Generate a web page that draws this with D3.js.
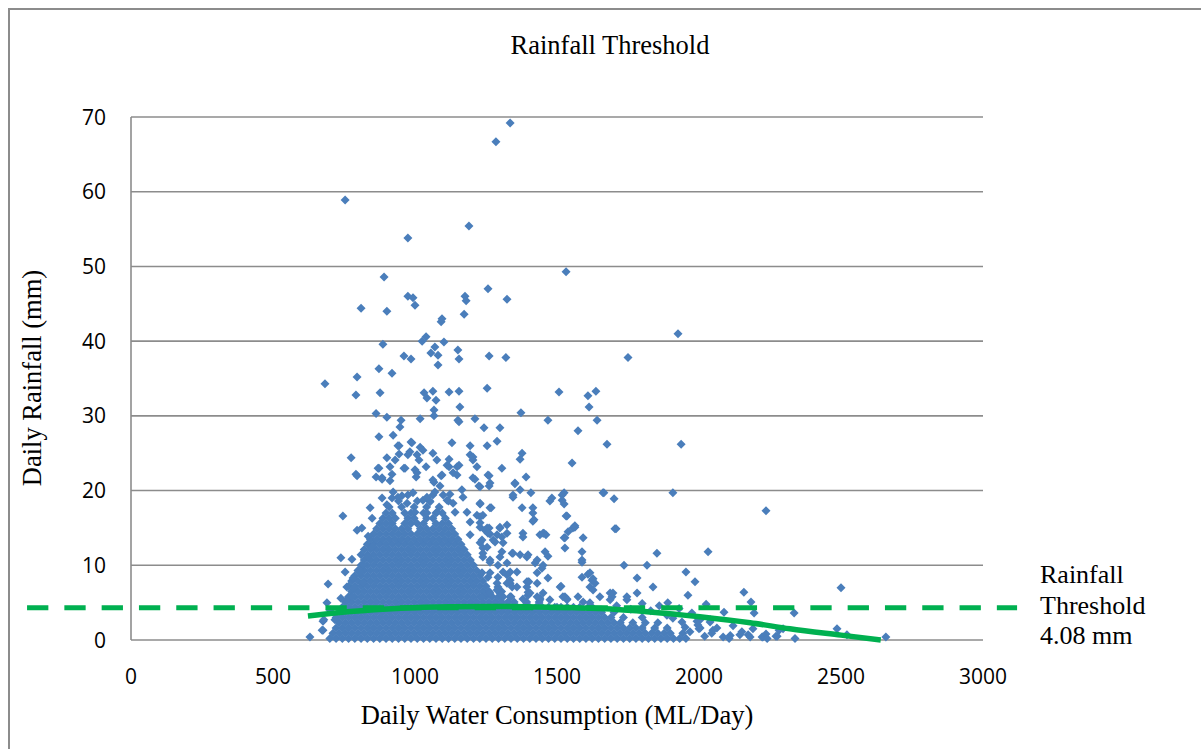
<!DOCTYPE html>
<html>
<head>
<meta charset="utf-8">
<script src="https://cdn.jsdelivr.net/npm/d3@7"></script>
<style>
  body { margin: 0; background: #fff; }
  svg { display: block; }
</style>
</head>
<body>
<script>
'use strict';

// ticks
var xTicks = [0, 500, 1000, 1500, 2000, 2500, 3000];
var yTicks = [0, 10, 20, 30, 40, 50, 60, 70];

// threshold (label value and where the dashed line sits in the picture)
var thresholdLabel = ['Rainfall', 'Threshold', '4.08 mm'];
var thresholdDrawn = 4.33;
var thresholdSpan = [-366, 3120];

// polynomial trend
var trendX = [623, 771, 950, 1123, 1300, 1475, 1650, 1827, 2003, 2180, 2320, 2500, 2640];
var trendY = [3.2, 3.8, 4.25, 4.45, 4.5, 4.4, 4.2, 3.75, 3.1, 2.3, 1.5, 0.65, 0];

// scattered days above 20 mm
var highPoints = [[1335,69.2],[1285,66.7],[754,58.9],[1190,55.4],[975,53.8],[1532,49.3],[891,48.6],[810,44.4],[901,44.0],[975,46.0],[993,45.8],[1000,44.8],[1176,46.0],[1180,45.4],[1173,43.6],[1257,47.0],[1324,45.6],[1092,42.6],[1095,43.0],[1039,40.6],[1025,40.0],[1102,39.9],[887,39.6],[1070,39.2],[1151,38.8],[961,38.0],[986,37.6],[1056,38.4],[1081,38.1],[1081,36.8],[1155,37.6],[1261,38.0],[1320,37.8],[873,36.3],[919,35.7],[796,35.2],[683,34.3],[792,32.8],[877,33.1],[1032,33.1],[1063,33.3],[1120,33.2],[1155,33.3],[1254,33.7],[1926,41.0],[1750,37.8],[1507,33.2],[1609,32.7],[1637,33.3],[1613,31.2],[1641,29.4],
  [1042,32.4],[1074,32.1],[1158,31.2],[1067,30.8],[1067,30.0],[863,30.3],[901,29.8],[951,29.4],[947,28.5],[1018,29.6],[1151,29.4],[1155,29.2],[1211,29.6],[1243,28.4],[1299,28.4],[1373,30.4],[1468,29.4],[1574,28.0],[873,27.2],[923,27.4],[944,26.0],[986,26.5],[1018,25.8],[1130,26.4],[1194,26.0],[1254,26.0],[1289,26.6],[1676,26.2],[1937,26.2],
  [1028,25.4],[1377,25.0],[1370,24.2],[775,24.4],[901,24.4],[930,24.1],[944,24.9],[982,25.2],[1007,24.8],[1014,24.1],[1063,25.0],[1077,24.1],[1120,24.2],[1155,23.4],[1194,24.8],[1204,24.1],[1218,23.2],[1306,23.0],[1553,23.7],[792,22.2],[873,23.0],[863,21.8],[884,21.5],[912,23.2],[919,22.2],[912,21.3],[961,23.0],[1000,22.8],[1004,21.8],[1039,23.2],[1092,22.0],[1067,21.1],[1120,23.2],[1148,22.1],[1211,21.5],[1225,20.6],[1261,22.0],[1261,20.6],[1391,21.8],[1352,20.9],[1088,20.6],[796,22.0],[940,26.0],[989,26.4],[975,24.8],[1113,23.4],[1148,23.2],[1204,24.5],[1257,22.1],[1264,21.0],[1007,22.4],[1063,21.4],[1095,22.1],[1134,22.4],[1204,21.7],[1229,20.5],[870,23.0],[884,21.7],[965,23.0],[1352,21.0],[1370,20.1]];

// scattered days 5-20 mm outside the dense core
var midPoints = [[1408,19.7],[1345,19.1],[1475,18.6],[1518,18.7],[1525,18.2],[1525,19.7],[1665,19.7],[1701,18.9],[1908,19.7],[1268,17.7],[1377,17.7],[1415,17.7],[1415,17.0],[1419,16.1],[1415,15.9],[1535,16.6],[1563,15.1],[1556,15.0],[1539,14.5],[1528,13.7],[1704,14.9],[1592,13.7],[1528,12.3],[1454,14.3],[1440,14.1],[1458,11.8],[1468,11.2],[1380,14.3],[1380,13.8],[1324,15.4],[1299,15.0],[1324,14.3],[1289,14.1],[1310,13.0],[1282,13.1],[1254,12.4],[1239,12.3],[1588,11.8],[1588,10.7],[1306,11.8],[1342,11.6],[1370,11.4],[1394,11.1],[1852,11.6],[1430,10.7],[1451,10.0],[1423,10.3],[1447,9.6],[1736,10.0],[1817,10.0],[1954,9.1],[1986,7.8],[1961,6.0],[1588,8.4],[1609,8.8],[1627,8.2],[1616,7.1],[1634,7.6],[1782,8.3],[1838,7.1],[1697,6.3],[1694,5.8],[1511,7.1],[1468,8.3],[1430,7.6],[1398,7.8],[1335,9.1],[1324,8.7],[1292,8.4],[1257,8.4],[1292,7.1],[1335,7.6],[1528,5.8],[1535,5.5],[1574,5.8],[1440,5.6],[1398,6.0],[1380,5.5],[2236,17.3],[2032,11.8],[1746,5.4],[1229,18.2],[1229,16.5],[1194,14.1],[1264,14.2],[1261,15.0],[1299,15.1],[1306,13.8],[1345,11.6],[1398,11.4],[1401,7.8],[1451,14.3],[1461,14.1],[1518,19.4],[1532,16.6],[1563,15.3],[1525,13.7],[1588,10.4],[1662,19.7],[1708,14.9],[1616,9.0],[1623,8.0],[1627,6.7],[1514,7.2],[1521,5.8],[1616,5.0],[1687,5.4],[1359,9.1],[1394,7.8],[1430,9.0],[1398,6.4],[1440,5.4],[1482,19.0],[1345,19.4],
  [739,11.0],[754,9.1],[778,10.8],[782,8.3],[760,7.1],[796,14.7],[813,15.0],[835,13.9],[842,17.7],[849,16.3],[694,7.5],[739,5.6],[690,5.0],[746,16.6],[760,5.4],[778,5.8],[806,9.1],[817,7.6],[785,7.0],[835,11.1],[849,12.4],[817,10.0],
  [923,19.8],[940,19.1],[919,19.0],[993,19.7],[1028,18.7],[1042,19.1],[1070,19.8],[1099,19.4],[1113,18.7],[1134,18.3],[1165,20.1],[1169,19.1],[1229,18.3],[1264,17.7],[901,18.1],[972,18.3],[1000,17.1],[1042,17.0],[1077,17.1],[1141,17.1],[1183,17.1],[1218,16.7],[1194,15.8],[1229,15.7],[1254,15.0],[884,19.0],[954,19.3],[1053,18.5],[1123,19.5],
  [1239,16.7],[1229,15.1],[1247,14.7],[1257,14.3],[1236,13.4],[1275,13.4],[1239,11.1],[1264,10.7],[1299,11.1],[1324,10.3],[1236,9.0],[1264,9.0],[1289,7.6],[1324,7.6],[1342,7.1],[1264,6.3],[1299,6.3],[1335,5.8],[1236,5.8],[1229,13.0],[1239,11.6],[1264,10.4],[1292,10.0],[1310,9.1],[1335,8.0],[1359,7.1],[1289,6.7],[1310,5.8],[1394,7.1],[1405,6.3],[1430,5.8],[1451,6.3],[1475,5.4],[1535,5.4],[1592,5.1],[1651,5.8],[1687,6.3],[1746,5.8],[1782,6.3]];

// right tail and left edge, under 5 mm
var lowPoints = [[2158,6.4],[2183,5.1],[2194,3.6],[2335,3.6],[2500,7.0],[2025,4.8],[2088,3.7],[2486,1.5],[2521,0.7],[2658,0.4],[2338,0.2],[2144,0.7],[2180,0.4],[2225,0.4],[2275,0.5],[2296,1.5],[2063,1.6],[2085,0.4],[2004,1.6],[1951,1.7],[1940,2.4],[1908,2.9],[1887,3.3],[1993,2.5],[2000,1.5],[2020,0.5],[2045,0.9],[2110,0.6],[2120,1.9],[2040,2.7],[1975,3.6],[1930,4.2],[1890,5.0],[1860,4.6],[1830,3.9],[1800,4.9],[1760,4.1],[1710,4.6],[1655,4.0],[1610,4.4],[1968,1.1],[2004,2.7],[1996,2.0],[2039,2.4],[2049,1.3],[2151,1.1],[2173,0.7],[2222,0.4],[2236,0.8],[2271,0.5],[2282,1.3],[1500,4.4],[630,0.4],[676,1.3],[676,2.5],[679,2.7],[673,1.3],[718,2.7],[701,4.0],[2106,0.2],[2240,0.2],[2190,1.5]];

// dense core: rainfall level and the consumption values seen at it
var coreRows = [
  [0.2, [700,722,744,766,788,810,832,854,876,898,920,942,964,986,1008,1030,1052,1074,1096,1118,1140,1162,1184,1206,1228,1250,1272,1294,1316,1338,1360,1382,1404,1426,1448,1470,1492,1514,1536,1558,1580,1602,1624,1646,1668,1690,1712,1734,1756,1778,1800,1822,1844,1866,1888,1910,1932,1954]],
  [0.9, [711,733,755,777,799,821,843,865,887,909,931,953,975,997,1019,1041,1063,1085,1107,1129,1151,1173,1195,1217,1239,1261,1283,1305,1327,1349,1371,1393,1415,1437,1459,1481,1503,1525,1547,1569,1591,1613,1635,1657,1679,1701,1723,1745,1767,1789,1811,1833,1855,1877,1899,1943]],
  [1.6, [722,744,766,788,810,832,854,876,898,920,942,964,986,1008,1030,1052,1074,1096,1118,1140,1162,1184,1206,1228,1250,1272,1294,1316,1338,1360,1382,1404,1426,1448,1470,1492,1514,1536,1558,1580,1602,1624,1646,1668,1690,1712,1734,1756,1778,1800,1844,1888]],
  [2.3, [733,755,777,799,821,843,865,887,909,931,953,975,997,1019,1041,1063,1085,1107,1129,1151,1173,1195,1217,1239,1261,1283,1305,1327,1349,1371,1393,1415,1437,1459,1481,1503,1525,1547,1569,1591,1613,1635,1657,1679,1701,1723,1767,1811,1855]],
  [3.0, [722,744,766,788,810,832,854,876,898,920,942,964,986,1008,1030,1052,1074,1096,1118,1140,1162,1184,1206,1228,1250,1272,1294,1316,1338,1360,1382,1404,1426,1448,1470,1492,1514,1536,1558,1580,1602,1624,1646,1668,1690,1734,1800]],
  [3.7, [733,755,777,799,821,843,865,887,909,931,953,975,997,1019,1041,1063,1085,1107,1129,1151,1173,1195,1217,1239,1261,1283,1305,1327,1349,1371,1393,1415,1437,1459,1481,1503,1525,1547,1569,1591,1613,1635,1657,1701]],
  [4.4, [744,766,788,810,832,854,876,898,920,942,964,986,1008,1030,1052,1074,1096,1118,1140,1162,1184,1206,1228,1250,1272,1294,1316,1338,1360,1382,1404,1426,1448,1470,1492,1514,1536,1558,1580,1624]],
  [5.1, [755,777,799,821,843,865,887,909,931,953,975,997,1019,1041,1063,1085,1107,1129,1151,1173,1195,1217,1239,1261,1283,1305,1327,1349,1393,1437]],
  [5.8, [766,788,810,832,854,876,898,920,942,964,986,1008,1030,1052,1074,1096,1118,1140,1162,1184,1206,1228,1250,1272,1294,1338]],
  [6.5, [777,799,821,843,865,887,909,931,953,975,997,1019,1041,1063,1085,1107,1129,1151,1173,1195,1217,1239,1261,1305]],
  [7.2, [766,788,810,832,854,876,898,920,942,964,986,1008,1030,1052,1074,1096,1118,1140,1162,1184,1206,1228,1250]],
  [7.9, [777,799,821,843,865,887,909,931,953,975,997,1019,1041,1063,1085,1107,1129,1151,1173,1195,1217,1239]],
  [8.6, [788,810,832,854,876,898,920,942,964,986,1008,1030,1052,1074,1096,1118,1140,1162,1184,1206,1228]],
  [9.3, [799,821,843,865,887,909,931,953,975,997,1019,1041,1063,1085,1107,1129,1151,1173,1195,1217]],
  [10.0, [810,832,854,876,898,920,942,964,986,1008,1030,1052,1074,1096,1118,1140,1162,1184,1206]],
  [10.7, [821,843,865,887,909,931,953,975,997,1019,1041,1063,1085,1107,1129,1151,1173,1195]],
  [11.4, [810,832,854,876,898,920,942,964,986,1008,1030,1052,1074,1096,1118,1140,1162,1184]],
  [12.1, [821,843,865,887,909,931,953,975,997,1019,1041,1063,1085,1107,1129,1151,1173]],
  [12.8, [832,854,876,898,920,942,964,986,1008,1030,1052,1074,1096,1118,1140,1162]],
  [13.5, [843,865,887,909,931,953,975,997,1019,1041,1063,1085,1107,1129,1151]],
  [14.2, [854,876,898,920,942,964,986,1008,1030,1052,1074,1096,1118,1140]],
  [14.9, [865,887,909,931,953,975,1019,1041,1063,1085,1107,1129]],
  [15.6, [876,898,920,964,986,1008,1030,1074,1096,1118]],
  [16.3, [887,909,931,975,997,1041,1063,1107]],
  [17.0, [898,920,964,986,1030,1074,1096]],
  [17.8, [909,953,997,1041,1085]],
  [18.6, [942,1008,1052,1118]],
  [19.4, [975,1063]]
];

var W = 1201, H = 749;
var svg = d3.select('body').append('svg').attr('width', W).attr('height', H);

var x = d3.scaleLinear().domain([0, 3000]).range([131, 983]);
var y = d3.scaleLinear().domain([0, 70]).range([640, 117]);

var serif = '"Liberation Serif", "Times New Roman", serif';
var sans = '"Open Sans", "Noto Sans", sans-serif';

// outer frame
svg.append('rect')
  .attr('x', 9).attr('y', 9).attr('width', 1220).attr('height', 780)
  .attr('fill', 'none').attr('stroke', '#8c8c8c').attr('stroke-width', 2);

// gridlines
svg.append('g').selectAll('line').data(yTicks).enter().append('line')
  .attr('x1', x(0)).attr('x2', x(3000))
  .attr('y1', function(d) { return y(d); }).attr('y2', function(d) { return y(d); })
  .attr('stroke', '#8c8c8c').attr('stroke-width', 1.6);

svg.append('line')
  .attr('x1', x(0)).attr('x2', x(0)).attr('y1', y(0)).attr('y2', y(70))
  .attr('stroke', '#8c8c8c').attr('stroke-width', 1.6);

// tick labels
svg.append('g').selectAll('text').data(yTicks).enter().append('text')
  .attr('x', 106).attr('y', function(d) { return y(d); })
  .attr('dy', '0.36em').attr('text-anchor', 'end')
  .style('font-family', sans).style('font-size', '21px').attr('fill', '#000')
  .text(function(d) { return d; });

svg.append('g').selectAll('text').data(xTicks).enter().append('text')
  .attr('x', function(d) { return x(d); }).attr('y', 684)
  .attr('text-anchor', 'middle')
  .style('font-family', sans).style('font-size', '21px').attr('fill', '#000')
  .text(function(d) { return d; });

// points
var allPoints = [];
coreRows.forEach(function(r) {
  r[1].forEach(function(v) { allPoints.push([v, r[0]]); });
});
allPoints = allPoints.concat(lowPoints, midPoints, highPoints);

var diamond = 'M0,-4.5L4.5,0L0,4.5L-4.5,0Z';
svg.append('g').selectAll('path').data(allPoints).enter().append('path')
  .attr('d', diamond)
  .attr('transform', function(d) { return 'translate(' + x(d[0]) + ',' + y(d[1]) + ')'; })
  .attr('fill', '#4a7ebb');

// trend line
var trend = trendX.map(function(v, i) { return [v, trendY[i]]; });
svg.append('path')
  .datum(trend)
  .attr('d', d3.line()
    .x(function(d) { return x(d[0]); })
    .y(function(d) { return y(d[1]); })
    .curve(d3.curveMonotoneX))
  .attr('fill', 'none').attr('stroke', '#00b050').attr('stroke-width', 5.5);

// threshold dashed line
svg.append('line')
  .attr('x1', x(thresholdSpan[0])).attr('x2', x(thresholdSpan[1]))
  .attr('y1', y(thresholdDrawn)).attr('y2', y(thresholdDrawn))
  .attr('stroke', '#00b050').attr('stroke-width', 5)
  .attr('stroke-dasharray', '21.3,16');

svg.append('g').selectAll('text').data(thresholdLabel).enter().append('text')
  .attr('x', 1040).attr('y', function(d, i) { return 583 + i * 30.7; })
  .style('font-family', serif).style('font-size', '26px').attr('fill', '#000')
  .text(function(d) { return d; });

// titles
svg.append('text')
  .attr('x', 610).attr('y', 54).attr('text-anchor', 'middle')
  .style('font-family', serif).style('font-size', '26.5px')
  .text('Rainfall Threshold');

svg.append('text')
  .attr('x', 557).attr('y', 724).attr('text-anchor', 'middle')
  .style('font-family', serif).style('font-size', '26.5px')
  .text('Daily Water Consumption (ML/Day)');

svg.append('text')
  .attr('transform', 'translate(41,378) rotate(-90)')
  .attr('text-anchor', 'middle')
  .style('font-family', serif).style('font-size', '26.5px')
  .text('Daily Rainfall (mm)');
</script>
</body>
</html>
